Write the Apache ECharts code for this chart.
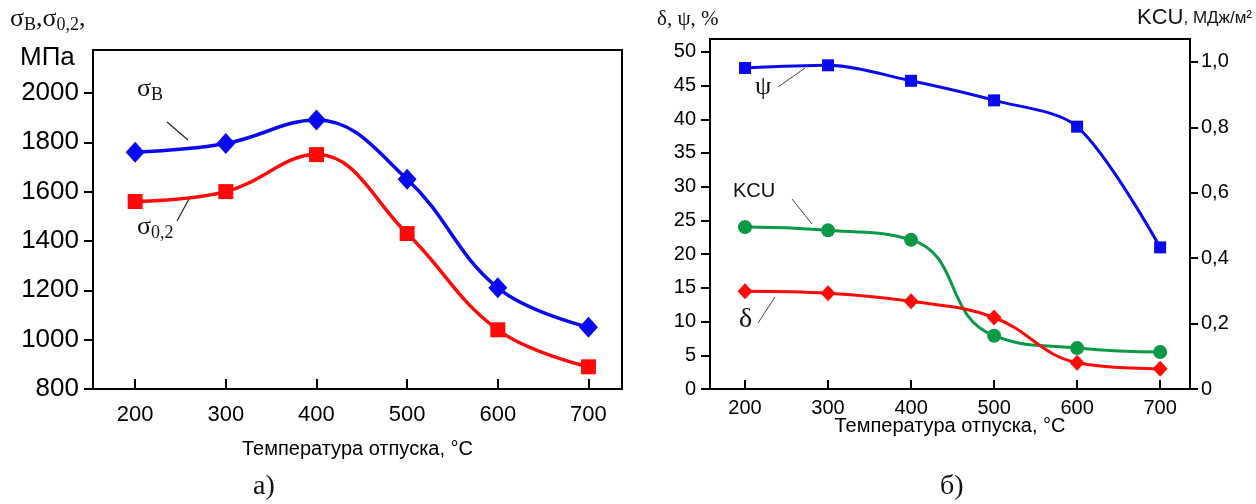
<!DOCTYPE html>
<html><head><meta charset="utf-8">
<script src="https://cdn.jsdelivr.net/npm/echarts@6/dist/echarts.min.js"></script>
<style>html,body{margin:0;padding:0;background:#fff}#c{width:1256px;height:504px}</style>
</head><body><div id="c"></div>
<script>
// ---- data ----
const temps = [200, 300, 400, 500, 600, 700];
const sigmaB = [1760, 1795, 1890, 1650, 1210, 1050];
const sigma02 = [1560, 1600, 1750, 1430, 1040, 890];
const psi = [47.6, 48.0, 45.7, 42.8, 38.9, 21.0];
const delta = [14.5, 14.2, 13.0, 10.6, 3.9, 3.0];
const kcu = [0.495, 0.485, 0.456, 0.163, 0.125, 0.113];
const xTicks = [200, 300, 400, 500, 600, 700];
const yTicksA = [800, 1000, 1200, 1400, 1600, 1800, 2000];
const yTicksB = [0, 5, 10, 15, 20, 25, 30, 35, 40, 45, 50];
const yTicksKCU = [0, 0.2, 0.4, 0.6, 0.8, 1.0];

const pair = (xs, ys) => xs.map((x, i) => [x, ys[i]]);
const SANS = 'Liberation Sans, Arial, sans-serif';
const SERIF = 'Liberation Serif, Times New Roman, serif';
const BLUE = '#0a0af0', RED = '#ff0a0a', GREEN = '#0a9a46';
const plain = v => String(v);

const axisLine = { show: true, lineStyle: { color: '#000', width: 2 } };

const chart = echarts.init(document.getElementById('c'));
chart.setOption({
  animation: false,
  backgroundColor: '#fff',
  grid: [
    { left: 93, top: 50, width: 529, height: 339, show: true, borderColor: '#000', borderWidth: 2 },
    { left: 710, top: 39, width: 480, height: 350, show: true, borderColor: '#000', borderWidth: 2 }
  ],
  xAxis: [
    { type: 'value', gridIndex: 0, min: 153.5, max: 737, axisLine,
      splitLine: { show: false },
      axisTick: { show: true, inside: true, length: 10, lineStyle: { color: '#000', width: 2 }, customValues: xTicks },
      axisLabel: { customValues: xTicks, fontSize: 22, fontFamily: SANS, color: '#000', margin: 15, formatter: plain },
      name: 'Температура отпуска, °C', nameLocation: 'middle', nameGap: 50, nameMoveOverlap: false,
      nameTextStyle: { fontSize: 20, fontFamily: SANS, color: '#000' } },
    { type: 'value', gridIndex: 1, min: 157.8, max: 736, axisLine,
      splitLine: { show: false },
      axisTick: { show: true, inside: true, length: 9, lineStyle: { color: '#000', width: 2 }, customValues: xTicks },
      axisLabel: { customValues: xTicks, fontSize: 20, fontFamily: SANS, color: '#000', margin: 9, formatter: plain },
      name: 'Температура отпуска, °C', nameLocation: 'middle', nameGap: 27, nameMoveOverlap: false,
      nameTextStyle: { fontSize: 20, fontFamily: SANS, color: '#000' } }
  ],
  yAxis: [
    { type: 'value', gridIndex: 0, min: 800, max: 2174, axisLine,
      splitLine: { show: false },
      axisTick: { show: true, length: 9, lineStyle: { color: '#000', width: 2 }, customValues: yTicksA },
      axisLabel: { customValues: yTicksA, fontSize: 26, fontFamily: SANS, color: '#000', margin: 14, formatter: plain } },
    { type: 'value', gridIndex: 1, min: 0, max: 51.9, axisLine,
      splitLine: { show: false },
      axisTick: { show: true, length: 9, lineStyle: { color: '#000', width: 2 }, customValues: yTicksB },
      axisLabel: { customValues: yTicksB, fontSize: 20, fontFamily: SANS, color: '#000', margin: 14, formatter: plain } },
    { type: 'value', gridIndex: 1, position: 'right', min: 0, max: 1.07, axisLine,
      splitLine: { show: false },
      axisTick: { show: true, length: 8, lineStyle: { color: '#000', width: 2 }, customValues: yTicksKCU },
      axisLabel: { customValues: yTicksKCU, fontSize: 20, fontFamily: SANS, color: '#000', margin: 11,
        formatter: v => v === 0 ? '0' : v.toFixed(1).replace('.', ',') } }
  ],
  series: [
    { type: 'line', xAxisIndex: 0, yAxisIndex: 0, data: pair(temps, sigmaB), smooth: 0.4,
      lineStyle: { color: BLUE, width: 3.5 }, symbol: 'diamond', symbolSize: [19, 21],
      itemStyle: { color: BLUE } },
    { type: 'line', xAxisIndex: 0, yAxisIndex: 0, data: pair(temps, sigma02), smooth: 0.4,
      lineStyle: { color: RED, width: 3.5 }, symbol: 'rect', symbolSize: 15,
      itemStyle: { color: RED } },
    { type: 'line', xAxisIndex: 1, yAxisIndex: 1, data: pair(temps, psi), smooth: 0.3,
      lineStyle: { color: BLUE, width: 3 }, symbol: 'rect', symbolSize: 12,
      itemStyle: { color: BLUE } },
    { type: 'line', xAxisIndex: 1, yAxisIndex: 2, data: pair(temps, kcu), smooth: 0.5,
      lineStyle: { color: GREEN, width: 3 }, symbol: 'circle', symbolSize: 14,
      itemStyle: { color: GREEN } },
    { type: 'line', xAxisIndex: 1, yAxisIndex: 1, data: pair(temps, delta), smooth: 0.4,
      lineStyle: { color: RED, width: 3 }, symbol: 'diamond', symbolSize: [15, 16],
      itemStyle: { color: RED } }
  ],
  graphic: [
    { type: 'text', left: 10, top: 6, style: {
        text: '{a|σ}{s|В}{a|,σ}{s|0,2}{a|,}',
        rich: { a: { fontFamily: SERIF, fontSize: 26, fill: '#111' },
                s: { fontFamily: SERIF, fontSize: 18, fill: '#111', padding: [12, 0, 0, 0] } } } },
    { type: 'text', left: 20, top: 45, style: { text: 'МПа', font: '26px ' + SANS, fill: '#000' } },
    { type: 'text', left: 137, top: 76, style: {
        text: '{a|σ}{s|В}',
        rich: { a: { fontFamily: SERIF, fontSize: 26, fill: '#111' },
                s: { fontFamily: SERIF, fontSize: 18, fill: '#111', padding: [12, 0, 0, 0] } } } },
    { type: 'line', shape: { x1: 167, y1: 122, x2: 188, y2: 140 }, style: { stroke: '#222', lineWidth: 1.2 } },
    { type: 'text', left: 137, top: 214, style: {
        text: '{a|σ}{s|0,2}',
        rich: { a: { fontFamily: SERIF, fontSize: 26, fill: '#111' },
                s: { fontFamily: SERIF, fontSize: 18, fill: '#111', padding: [12, 0, 0, 0] } } } },
    { type: 'line', shape: { x1: 177, y1: 221, x2: 190, y2: 197 }, style: { stroke: '#222', lineWidth: 1.2 } },
    { type: 'text', left: 253, top: 473, style: { text: 'а)', font: '28px ' + SERIF, fill: '#111' } },

    { type: 'text', left: 657, top: 9, style: { text: 'δ, ψ, %', font: '21px ' + SERIF, fill: '#111' } },
    { type: 'text', right: 4, top: 7, style: {
        text: '{a|KCU}{b|, МДж/м²}',
        rich: { a: { fontFamily: SANS, fontSize: 22, fill: '#111' },
                b: { fontFamily: SANS, fontSize: 17, fill: '#111' } } } },
    { type: 'text', left: 755, top: 74, style: { text: 'ψ', font: '26px ' + SERIF, fill: '#111' } },
    { type: 'line', shape: { x1: 778, y1: 87, x2: 805, y2: 68 }, style: { stroke: '#444', lineWidth: 1 } },
    { type: 'text', left: 733, top: 181, style: { text: 'KCU', font: '20px ' + SANS, fill: '#111' } },
    { type: 'line', shape: { x1: 792, y1: 199, x2: 812, y2: 224 }, style: { stroke: '#444', lineWidth: 1 } },
    { type: 'text', left: 739, top: 306, style: { text: 'δ', font: '28px ' + SERIF, fill: '#111' } },
    { type: 'line', shape: { x1: 758, y1: 323, x2: 775, y2: 297 }, style: { stroke: '#444', lineWidth: 1 } },
    { type: 'text', left: 940, top: 473, style: { text: 'б)', font: '28px ' + SERIF, fill: '#111' } }
  ]
});
</script></body></html>
